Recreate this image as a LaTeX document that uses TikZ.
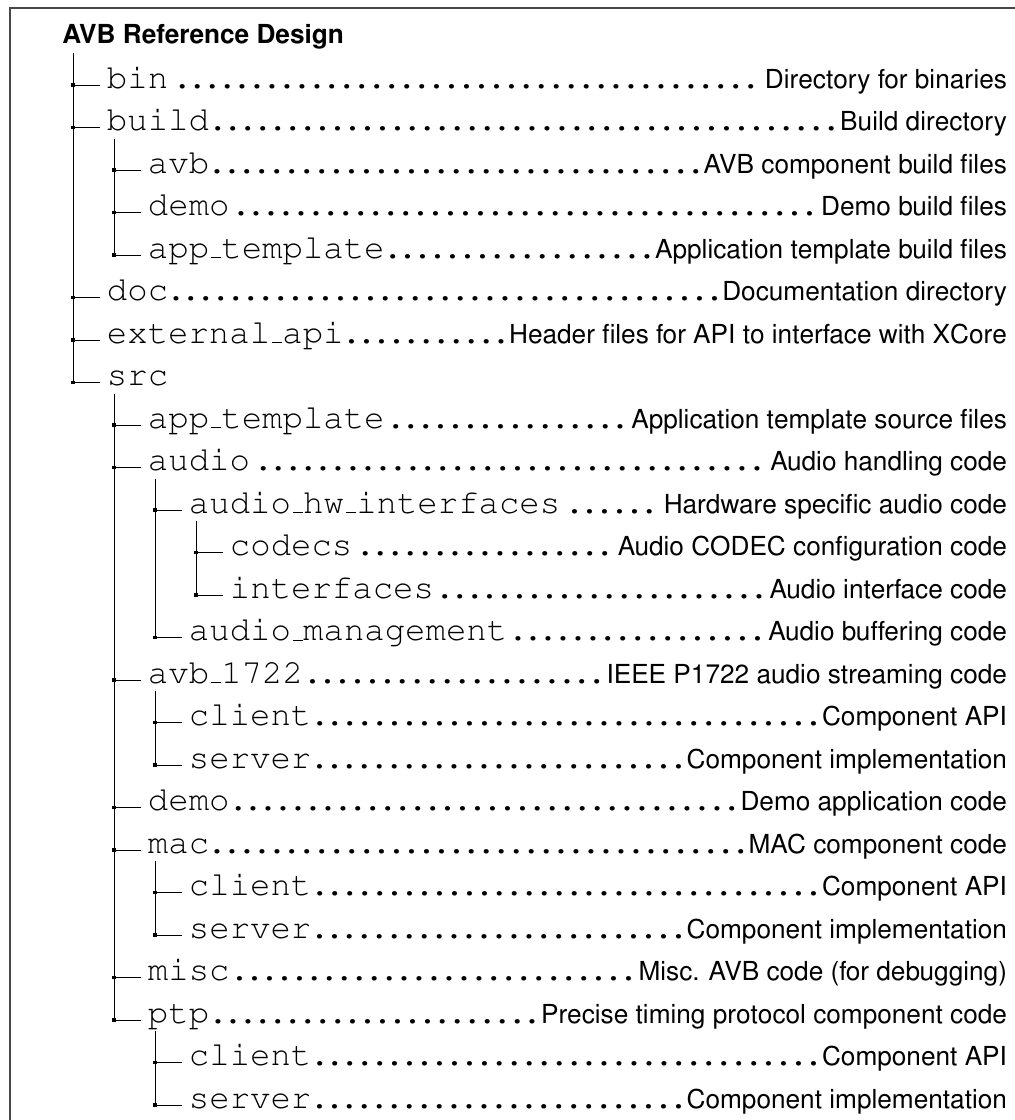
\documentclass[tikz,border=0pt]{standalone}
\usepackage[T1]{fontenc}
\usepackage{helvet}
\usepackage{courier}
\newcommand\tfont{\fontfamily{pcr}\fontseries{m}\fontsize{17.0}{20}\selectfont}
\newcommand\sfont{\fontfamily{phv}\fontseries{m}\fontsize{13.1}{16}\selectfont}
\newcommand\us{\kern.06em\vbox{\hrule height .5pt width .3em}}
\newcommand\rowbox[3]{\hbox to 494.5pt{\tfont\kern#1pt #2\cleaders\hbox to .44em{\hss.\hss}\hfill\kern0pt{\sfont #3}}}
\newcommand\rowboxnd[2]{\hbox to 494.5pt{\tfont\kern#1pt #2\hfill}}
\tikzset{
  rowstyle/.style={anchor=base west, inner sep=0pt, outer sep=0pt},
  tickline/.style={draw=black, line width=0.47pt},
  vline/.style={draw=black, line width=0.47pt},
  sq/.style={fill=black, draw=none, rectangle, minimum size=1.9pt, inner sep=0pt},
  framestyle/.style={draw=black!72, line width=1pt}
}
\newcommand\entry[4]{%
  \pgfmathsetmacro\ty{85+42.5*(#1-1)}%
  \pgfmathsetmacro\vx{73+41*(#2-1)}%
  \pgfmathsetmacro\ind{(\vx+34-18)/2}%
  \coordinate (j#1) at (\vx,\ty);
  \node[rowstyle] (r#1) at (18,\ty+3) {\rowbox{\ind}{#3}{#4}};
  \draw[tickline] (j#1) -- ++(27,0);
  \node[sq] (s#1) at (j#1) {};
}
\newcommand\entrynd[3]{%
  \pgfmathsetmacro\ty{85+42.5*(#1-1)}%
  \pgfmathsetmacro\vx{73+41*(#2-1)}%
  \pgfmathsetmacro\ind{(\vx+34-18)/2}%
  \coordinate (j#1) at (\vx,\ty);
  \node[rowstyle] (r#1) at (18,\ty+3) {\rowboxnd{\ind}{#3}};
  \draw[tickline] (j#1) -- ++(27,0);
  \node[sq] (s#1) at (j#1) {};
}
\begin{document}
\begin{tikzpicture}[x=0.5pt,y=-0.5pt]
\useasboundingbox (0,0) rectangle (1015,1120);
\draw[framestyle] (10,1120) -- (10,8) -- (1015,8);
\node[anchor=base west, inner sep=0pt, font=\sfont\bfseries] (title) at (62,43) {AVB Reference Design};

\entry{1}{1}{bin}{Directory for binaries}
\entry{2}{1}{build}{Build directory}
\entry{3}{2}{avb}{AVB component build files}
\entry{4}{2}{demo}{Demo build files}
\entry{5}{2}{app\us template}{Application template build files}
\entry{6}{1}{doc}{Documentation directory}
\entry{7}{1}{external\us api}{Header files for API to interface with XCore}
\entrynd{8}{1}{src}
\entry{9}{2}{app\us template}{Application template source files}
\entry{10}{2}{audio}{Audio handling code}
\entry{11}{3}{audio\us hw\us interfaces}{Hardware specific audio code}
\entry{12}{4}{codecs}{Audio CODEC configuration code}
\entry{13}{4}{interfaces}{Audio interface code}
\entry{14}{3}{audio\us management}{Audio buffering code}
\entry{15}{2}{avb\us 1722}{IEEE P1722 audio streaming code}
\entry{16}{3}{client}{Component API}
\entry{17}{3}{server}{Component implementation}
\entry{18}{2}{demo}{Demo application code}
\entry{19}{2}{mac}{MAC component code}
\entry{20}{3}{client}{Component API}
\entry{21}{3}{server}{Component implementation}
\entry{22}{2}{misc}{Misc. AVB code (for debugging)}
\entry{23}{2}{ptp}{Precise timing protocol component code}
\entry{24}{3}{client}{Component API}
\entry{25}{3}{server}{Component implementation}

\draw[vline] ([yshift=-2pt]title.south -| j1) -- (j8);
\draw[vline] ([xshift=20.5pt,yshift=-5.5pt]j2) -- (j5);
\draw[vline] ([xshift=20.5pt,yshift=-5.5pt]j8) -- (j23);
\draw[vline] ([xshift=20.5pt,yshift=-5.5pt]j10) -- (j14);
\draw[vline] ([xshift=20.5pt,yshift=-5.5pt]j11) -- (j13);
\draw[vline] ([xshift=20.5pt,yshift=-5.5pt]j15) -- (j17);
\draw[vline] ([xshift=20.5pt,yshift=-5.5pt]j19) -- (j21);
\draw[vline] ([xshift=20.5pt,yshift=-5.5pt]j23) -- (j25);
\end{tikzpicture}
\end{document}
